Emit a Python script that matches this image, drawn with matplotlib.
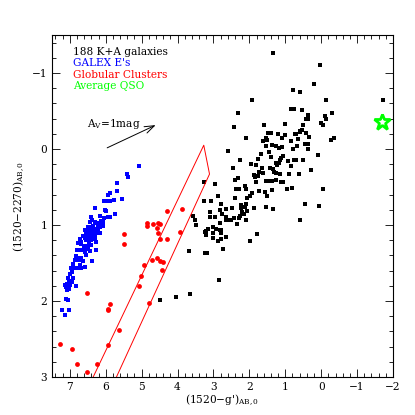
import matplotlib
matplotlib.use("Agg")
import matplotlib.pyplot as plt
from matplotlib.ticker import MultipleLocator

plt.rcParams['font.family'] = ['DejaVu Serif']
plt.rcParams['mathtext.fontset'] = 'dejavuserif'

# 188 K+A galaxies, (1520-g')_AB,0 vs (1520-2270)_AB,0
ka_x = [1.35, 0.02, 0.21, 0.79, 0.58, 1.92, -0.14, -1.71, 2.31, 2.44, 2.60, 2.27, 2.45,
        0.84, 0.76, 0.54, 0.37, -0.29, -0.11, -0.14, 0.42, 0.37, 1.00, 0.00, -0.04, 1.58,
        0.51, 0.54, 0.58, 0.60, 1.49, 1.39, 1.21, 1.00, 0.74, 0.70, 0.42, -0.35, -0.26,
        2.09, 1.53, 1.09, 0.33, 0.65, 0.85, 1.62, 1.51, 0.45, 0.37, 0.67, 1.53, 1.37, 1.25,
        1.09, 1.18, 0.37, 0.79, 1.44, 1.67, 0.08, 1.07, 1.11, 1.16, 1.18, 1.39, 1.76, 0.76,
        0.70, 0.51, 0.93, 1.95, 1.81, 0.84, 1.25, 1.23, 1.64, 1.42, 1.35, 0.28, 1.72, 1.61,
        1.32, 1.25, 1.16, 0.90, 0.62, 1.86, 1.83, 1.76,
        3.26, 2.95, 2.41, 2.32, 1.81, 1.53, 1.44, 1.37, 1.25, 1.13, 1.07, 2.13, 2.09, 2.37,
        2.29, 1.72, 1.56, 1.50, 1.36, 0.96, 0.81, 2.86, 2.41, 1.92, 1.97, 2.06, 3.25, 3.08,
        2.78, 2.23, 2.09, 2.13, 2.49, 2.66, 2.81, 2.23, 1.86, 1.53, 1.35, 3.11, 2.75, 2.20,
        2.06, 2.15, 3.11, 2.95, 2.66, 2.66, 2.57, 2.50, 2.43, 2.27, 2.29, 2.09, 3.52, 3.48,
        2.83, 2.34, 0.60, 3.00, 2.92, 3.15, 3.20, 2.83, 2.78, 3.01, 3.23, 3.20, 2.78, 2.64,
        3.01, 2.78, 2.88, 1.79, 1.99, 2.74, 3.23, 3.18,
        3.68, 2.85, 4.50, 4.05, 3.66, 0.46, 0.05, -0.04, 3.57]
ka_y = [-1.26, -1.10, -0.86, -0.78, -0.75, -0.65, -0.65, -0.64, -0.48, -0.29, 0.03, 0.15, 0.25,
        -0.52, -0.52, -0.51, -0.45, -0.48, -0.43, -0.40, -0.39, -0.39, -0.33, -0.34, -0.31, -0.31,
        -0.32, -0.25, -0.24, -0.22, -0.21, -0.21, -0.20, -0.18, -0.20, -0.20, -0.21, -0.15, -0.12,
        -0.15, -0.15, -0.15, -0.16, -0.13, -0.10, -0.10, -0.12, -0.06, -0.06, -0.04, -0.04, -0.05, -0.04,
        -0.03, -0.01, 0.00, 0.00, 0.04, 0.06, 0.08, 0.09, 0.12, 0.15, 0.19, 0.10, 0.13, 0.15,
        0.15, 0.14, 0.16, 0.20, 0.21, 0.22, 0.19, 0.21, 0.25, 0.25, 0.26, 0.27, 0.30, 0.31,
        0.30, 0.32, 0.33, 0.33, 0.33, 0.34, 0.37, 0.35,
        0.44, 0.46, 0.41, 0.38, 0.43, 0.42, 0.42, 0.42, 0.41, 0.44, 0.44, 0.49, 0.53, 0.52,
        0.52, 0.55, 0.57, 0.62, 0.54, 0.52, 0.51, 0.62, 0.64, 0.58, 0.62, 0.65, 0.69, 0.69,
        0.73, 0.74, 0.73, 0.76, 0.78, 0.79, 0.80, 0.78, 0.77, 0.76, 0.79, 0.83, 0.86, 0.83,
        0.82, 0.86, 0.90, 0.89, 0.89, 0.93, 0.94, 0.94, 0.91, 0.88, 0.91, 0.93, 0.93, 1.00,
        0.98, 0.99, 0.93, 1.03, 1.05, 1.05, 1.08, 1.07, 1.07, 1.11, 1.09, 1.13, 1.11, 1.16,
        1.17, 1.18, 1.21, 1.12, 1.21, 1.32, 1.37, 1.37,
        1.34, 1.72, 1.99, 1.95, 1.91, 0.72, 0.75, 0.53, 0.88]

# GALEX early-type galaxies
ge_x = [5.08, 5.40, 5.38, 5.70, 5.87, 5.93, 5.70, 6.06, 6.00, 5.89, 5.77, 5.54, 6.29, 6.03,
        5.98, 5.75, 6.17, 6.05, 5.95, 5.89, 6.40, 6.38, 6.43, 6.29, 6.23, 6.17, 6.09, 6.12,
        6.35, 6.44, 6.49, 6.31, 6.21, 6.44, 6.51, 6.40, 6.32, 6.26, 6.17,
        6.17, 6.07, 6.49, 6.43, 6.40, 6.32, 6.26, 6.46, 6.52, 6.35, 6.30, 6.26, 6.63, 6.58,
        6.54, 6.44, 6.40, 6.72, 6.68, 6.30, 6.26, 6.77, 6.69, 6.46, 6.40, 6.61, 6.81, 6.49,
        6.44, 6.68, 6.58, 6.28, 6.54, 6.83, 6.79, 6.75, 6.68, 6.63, 6.37, 6.86, 6.91, 6.72,
        6.68, 6.58, 6.79, 6.98, 6.91, 7.00, 7.05, 7.09, 7.05, 7.00, 7.14, 7.07, 7.09, 7.03,
        6.83, 7.12, 7.05, 7.21, 7.03, 7.14,
        6.55, 6.36, 6.48, 6.60, 6.52, 6.95, 7.02, 7.10, 6.95, 6.90, 6.22, 6.13, 6.34, 6.57]
ge_y = [0.22, 0.33, 0.37, 0.45, 0.58, 0.61, 0.55, 0.68, 0.69, 0.69, 0.67, 0.66, 0.77, 0.80,
        0.81, 0.85, 0.88, 0.91, 0.90, 0.89, 0.90, 0.94, 0.96, 0.96, 0.98, 0.99, 0.96, 1.01,
        1.01, 1.02, 1.05, 1.05, 1.07, 1.08, 1.09, 1.10, 1.09, 1.11, 1.11,
        1.02, 1.01, 1.02, 1.02, 1.07, 1.08, 1.05, 1.09, 1.13, 1.12, 1.13, 1.11, 1.15, 1.17,
        1.20, 1.18, 1.20, 1.19, 1.22, 1.18, 1.22, 1.24, 1.25, 1.24, 1.26, 1.27, 1.33, 1.32,
        1.34, 1.33, 1.35, 1.33, 1.40, 1.41, 1.44, 1.46, 1.44, 1.48, 1.47, 1.46, 1.51, 1.52,
        1.56, 1.55, 1.57, 1.57, 1.56, 1.65, 1.70, 1.77, 1.79, 1.79, 1.79, 1.83, 1.86, 1.84,
        1.80, 1.98, 1.99, 2.12, 2.12, 2.19,
        1.10, 1.15, 1.16, 1.30, 1.28, 1.62, 1.74, 1.82, 1.75, 1.70, 1.03, 0.95, 1.17, 1.07]

# Globular clusters
gc_x = [4.29, 3.89, 4.85, 4.85, 4.68, 4.54, 4.48, 4.57, 4.54, 5.49, 3.94, 4.48, 4.29, 5.50,
        4.71, 4.57, 4.48, 4.40, 4.43, 4.93, 5.03, 5.08, 6.51, 5.89, 5.93, 5.93, 4.79, 5.63,
        5.93, 7.26, 6.93, 6.80, 6.23, 6.51]
gc_y = [0.81, 0.79, 0.97, 1.01, 0.99, 0.97, 0.99, 1.04, 1.11, 1.12, 1.09, 1.19, 1.19, 1.25,
        1.46, 1.43, 1.47, 1.49, 1.59, 1.52, 1.67, 1.80, 1.90, 2.04, 2.10, 2.12, 2.03, 2.38,
        2.58, 2.57, 2.63, 2.83, 2.83, 2.93]

# average QSO
qso_x = [-1.70]
qso_y = [-0.35]

# model track outline and reddening vector
track_x = [6.40, 3.27, 3.11, 5.75]
track_y = [3.05, -0.05, 0.33, 3.05]
av_start = (6.03, 0.00)
av_end = (4.54, -0.33)

fs = 7.6

fig = plt.figure(figsize=(4.15, 4.15), dpi=100)
ax = fig.add_axes([0.125, 0.0916, 0.822, 0.824])

ax.plot(track_x, track_y, color='#ff0000', lw=0.7)
ax.scatter(ka_x, ka_y, marker='s', s=5, color='black', linewidths=0)
ax.scatter(ge_x, ge_y, marker='s', s=6, color='#0000ff', linewidths=0)
ax.scatter(gc_x, gc_y, marker='o', s=12, color='#ff0000', linewidths=0)
ax.plot(qso_x, qso_y, marker='*', ms=12, mfc='none', mec='#00ff00', mew=2, ls='none')

ax.annotate('', xy=av_end, xytext=av_start,
            arrowprops=dict(arrowstyle='->,head_length=0.7,head_width=0.25', lw=0.7, color='black'))
ax.text(6.51, -0.29, r'A$_{\rm V}$=1mag', fontsize=fs, color='black')

legend_lines = ["188 K+A galaxies", "GALEX E's", "Globular Clusters", "Average QSO"]
legend_colors = ['black', '#0000ff', '#ff0000', '#00ff00']
for i, (t, c) in enumerate(zip(legend_lines, legend_colors)):
    ax.text(6.91, -1.28 + 0.15 * i, t, color=c, fontsize=fs, va='center')

ax.set_xlim(7.5, -2)
ax.set_ylim(3, -1.5)
ax.xaxis.set_major_locator(MultipleLocator(1))
ax.xaxis.set_minor_locator(MultipleLocator(0.2))
ax.yaxis.set_major_locator(MultipleLocator(1))
ax.yaxis.set_minor_locator(MultipleLocator(0.2))
ax.tick_params(which='both', direction='in', top=True, right=True, labelsize=fs, width=0.6)
ax.tick_params(which='major', length=6)
ax.tick_params(which='minor', length=3)
for s in ax.spines.values():
    s.set_linewidth(0.8)

ax.set_xlabel(r"(1520$-$g')$_{\rm AB,0}$", fontsize=fs, labelpad=1)
ax.set_ylabel(r"(1520$-$2270)$_{\rm AB,0}$", fontsize=fs, labelpad=3)

fig.savefig('out.png', dpi=100)
